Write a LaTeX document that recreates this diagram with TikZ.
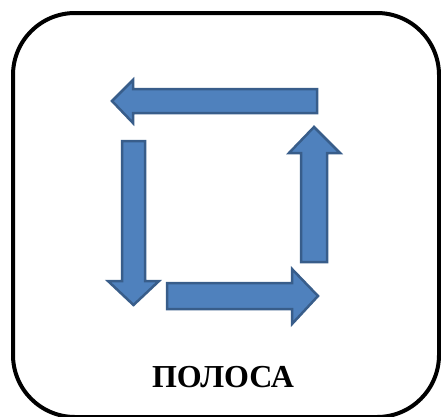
\documentclass[tikz,border=0pt]{standalone}
\usepackage{fontspec}
\setmainfont{Liberation Serif}
\definecolor{arrowfill}{HTML}{4F81BD}
\definecolor{arrowline}{HTML}{385D8A}
\tikzset{
  blockarrow/.style={fill=arrowfill, draw=arrowline, line width=2.5pt},
  frame/.style={draw=black, line width=4pt, rounded corners=62pt}
}
\begin{document}
\begin{tikzpicture}[x=1pt,y=-1pt]
\useasboundingbox (0,0) rectangle (441,416);
\draw[frame] (13,13) rectangle (439,417);
% top arrow, pointing left
\draw[blockarrow] (317,89) -- (133,89) -- (133,80) -- (112,101) -- (133,123) -- (133,113) -- (317,113) -- cycle;
% left arrow, pointing down
\draw[blockarrow] (122,141) -- (145,141) -- (145,281) -- (159,281) -- (133.5,305) -- (108,281) -- (122,281) -- cycle;
% bottom arrow, pointing right
\draw[blockarrow] (167,283) -- (292,283) -- (292,269) -- (318,296) -- (292,324) -- (292,309) -- (167,309) -- cycle;
% right arrow, pointing up
\draw[blockarrow] (301,262) -- (301,153) -- (289,153) -- (314,127) -- (340,153) -- (327,153) -- (327,262) -- cycle;
\node[inner sep=0pt, font=\bfseries\fontsize{32}{36}\selectfont] (title) at (223,377) {ПОЛОСА};
\end{tikzpicture}
\end{document}
